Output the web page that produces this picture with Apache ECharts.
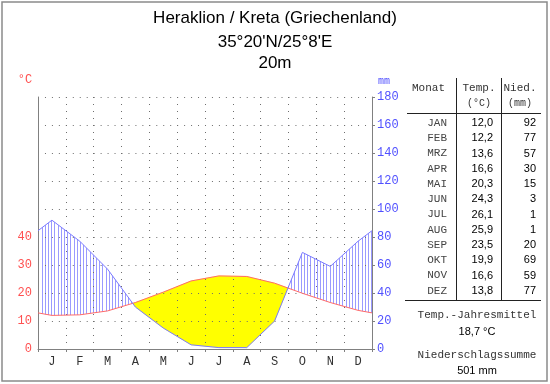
<!DOCTYPE html>
<html>
<head>
<meta charset="utf-8">
<script src="https://cdn.jsdelivr.net/npm/echarts@6/dist/echarts.min.js"></script>
<style>html,body{margin:0;padding:0;background:#fff}#c{width:550px;height:384px}</style>
</head>
<body>
<div id="c"></div>
<script>
// ---- data ----
const monthLetters = ['J','F','M','A','M','J','J','A','S','O','N','D'];
const monthNames = ['JAN','FEB','MRZ','APR','MAI','JUN','JUL','AUG','SEP','OKT','NOV','DEZ'];
const temperature = [12.0,12.2,13.6,16.6,20.3,24.3,26.1,25.9,23.5,19.9,16.6,13.8];
const precipitation = [92,77,57,30,15,3,1,1,20,69,59,77];
const tempTickLabels = [0,10,20,30,40];
const titleLines = ['Heraklion / Kreta (Griechenland)', "35°20'N/25°8'E", '20m'];

// ---- derived series (month centres, wrapped at the year edges) ----
const edgeT = (temperature[11] + temperature[0]) / 2;
const edgeP = (precipitation[11] + precipitation[0]) / 2;
const xs = [0].concat(temperature.map((_, i) => i + 0.5), [12]);
const tPts = [edgeT].concat(temperature, [edgeT]);
const pPts = [edgeP].concat(precipitation, [edgeP]);

const fmt1 = v => v.toFixed(1).replace('.', ',');
const meanT = temperature.reduce((a, b) => a + b, 0) / temperature.length;
const sumP = precipitation.reduce((a, b) => a + b, 0);

// hatch pattern (vertical lines)
const pc = document.createElement('canvas');
pc.width = 16; pc.height = 4;
const pctx = pc.getContext('2d');
pctx.fillStyle = '#9a9aff';
[0, 3, 6, 10, 13].forEach(x => pctx.fillRect(x, 0, 1, 4));
const hatch = { image: pc, repeat: 'repeat' };

function renderFill(params, api) {
  const n = xs.length;
  const d = xs.map((_, i) => pPts[i] / 2 - tPts[i]);
  const regions = [];
  let cur = { s: d[0] >= 0 ? 1 : -1, T: [[xs[0], tPts[0]]], P: [[xs[0], pPts[0] / 2]] };
  regions.push(cur);
  for (let i = 0; i < n - 1; i++) {
    const x0 = xs[i], x1 = xs[i + 1];
    const t0 = tPts[i], t1 = tPts[i + 1];
    const p1 = pPts[i + 1] / 2;
    if (d[i] * d[i + 1] < 0) {
      const f = d[i] / (d[i] - d[i + 1]);
      const c = [x0 + f * (x1 - x0), t0 + f * (t1 - t0)];
      cur.T.push(c); cur.P.push(c);
      cur = { s: d[i + 1] >= 0 ? 1 : -1, T: [c], P: [c] };
      regions.push(cur);
    }
    cur.T.push([x1, t1]); cur.P.push([x1, p1]);
  }
  const children = regions.map(r => {
    const pts = r.T.concat(r.P.slice().reverse()).map(p => api.coord(p));
    return {
      type: 'polygon',
      shape: { points: pts },
      style: r.s > 0 ? { fill: hatch } : { fill: '#ffff00', stroke: '#ffff00', lineWidth: 0.5 }
    };
  });
  return { type: 'group', children: children };
}

const mono = 'Liberation Mono, DejaVu Sans Mono, monospace';
const sans = 'Liberation Sans, Arial, sans-serif';
const graphics = [];
graphics.push({ type: 'rect', shape: { x: 2, y: 2, width: 545, height: 379 }, style: { fill: 'none', stroke: '#8a8a8a', lineWidth: 1.5 }, silent: true });
const titleY = [18, 42, 63];
titleLines.forEach((t, i) => graphics.push({ type: 'text', style: { text: t, x: 275, y: titleY[i], font: '17px ' + sans, fill: '#000', textAlign: 'center', textVerticalAlign: 'middle' } }));
graphics.push({ type: 'text', style: { text: '°C', x: 25, y: 80, font: '12px ' + mono, fill: '#ff5050', textAlign: 'center', textVerticalAlign: 'middle' } });
graphics.push({ type: 'text', style: { text: 'mm', x: 384, y: 81, font: '10px ' + mono, fill: '#5050ff', textAlign: 'center', textVerticalAlign: 'middle' } });
// table
const hdr = (t, x, y, align, font) => graphics.push({ type: 'text', style: { text: t, x: x, y: y, font: font, fill: '#333', textAlign: align, textVerticalAlign: 'middle' } });
hdr('Monat', 412, 88, 'left', '11px ' + mono);
hdr('Temp.', 479, 88, 'center', '11px ' + mono);
hdr('(°C)', 479, 103, 'center', '10px ' + mono);
hdr('Nied.', 520, 88, 'center', '11px ' + mono);
hdr('(mm)', 520, 103, 'center', '10px ' + mono);
const ln = (x1, y1, x2, y2) => graphics.push({ type: 'line', shape: { x1: x1, y1: y1, x2: x2, y2: y2 }, style: { stroke: '#222', lineWidth: 1 } });
ln(407, 113.5, 541, 113.5);
ln(405, 300.5, 541, 300.5);
ln(456.5, 78, 456.5, 300);
ln(501.5, 78, 501.5, 300);
monthNames.forEach((m, i) => {
  const y = 123 + i * 15.25;
  graphics.push({ type: 'text', style: { text: m, x: 447, y: y, font: '11px ' + mono, fill: '#444', textAlign: 'right', textVerticalAlign: 'middle' } });
  graphics.push({ type: 'text', style: { text: fmt1(temperature[i]), x: 493, y: y, font: '11px ' + sans, fill: '#000', textAlign: 'right', textVerticalAlign: 'middle' } });
  graphics.push({ type: 'text', style: { text: String(precipitation[i]), x: 536, y: y, font: '11px ' + sans, fill: '#000', textAlign: 'right', textVerticalAlign: 'middle' } });
});
hdr('Temp.-Jahresmittel', 477, 315, 'center', '11px ' + mono);
graphics.push({ type: 'text', style: { text: fmt1(meanT) + ' °C', x: 477, y: 332, font: '11px ' + sans, fill: '#000', textAlign: 'center', textVerticalAlign: 'middle' } });
hdr('Niederschlagssumme', 477, 355, 'center', '11px ' + mono);
graphics.push({ type: 'text', style: { text: sumP + ' mm', x: 477, y: 371, font: '11px ' + sans, fill: '#000', textAlign: 'center', textVerticalAlign: 'middle' } });

const vGrid = { show: true, lineStyle: { color: '#6e6e6e', width: 1, type: [1, 6] } };
const hGrid = { show: true, lineStyle: { color: '#6e6e6e', width: 1, type: [1, 5.958] } };
const chart = echarts.init(document.getElementById('c'), null, { renderer: 'canvas' });
chart.setOption({
  animation: false,
  backgroundColor: '#fff',
  grid: { left: 38, right: 178, top: 97, bottom: 35, containLabel: false },
  xAxis: [
    { type: 'value', min: 0, max: 12, interval: 1, position: 'bottom', z: 3,
      axisLine: { show: true, lineStyle: { color: '#808080' } },
      axisTick: { show: true, length: 3, lineStyle: { color: '#808080' } },
      axisLabel: { show: false }, splitLine: vGrid },
    { type: 'category', data: monthLetters, boundaryGap: true, position: 'bottom', z: 3,
      axisLine: { show: false }, axisTick: { show: false }, splitLine: { show: false },
      axisLabel: { margin: 7, color: '#333', fontFamily: mono, fontSize: 12 } }
  ],
  yAxis: [
    { type: 'value', min: 0, max: 90, interval: 10, position: 'left', z: 3,
      axisLine: { show: true, lineStyle: { color: '#808080' } },
      axisTick: { show: false }, splitLine: { show: false },
      axisLabel: { margin: 6, color: '#ff5050', fontFamily: mono, fontSize: 12,
        formatter: v => tempTickLabels.indexOf(v) >= 0 ? String(v) : '' } },
    { type: 'value', min: 0, max: 180, interval: 20, position: 'right', z: 3,
      axisLine: { show: true, lineStyle: { color: '#808080' } },
      axisTick: { show: true, length: 3, lineStyle: { color: '#808080' } },
      splitLine: hGrid,
      axisLabel: { margin: 5, color: '#5050ff', fontFamily: mono, fontSize: 12 } }
  ],
  series: [
    { type: 'custom', coordinateSystem: 'cartesian2d', xAxisIndex: 0, yAxisIndex: 0,
      data: [[0, 0]], renderItem: renderFill, z: 1, silent: true, clip: false },
    { type: 'line', xAxisIndex: 0, yAxisIndex: 0, data: xs.map((x, i) => [x, tPts[i]]),
      symbol: 'none', lineStyle: { color: '#ff6a6a', width: 1 }, z: 5, silent: true },
    { type: 'line', xAxisIndex: 0, yAxisIndex: 1, data: xs.map((x, i) => [x, pPts[i]]),
      symbol: 'none', lineStyle: { color: '#7a7aff', width: 1 }, z: 5, silent: true }
  ],
  graphic: graphics
});
</script>
</body>
</html>
